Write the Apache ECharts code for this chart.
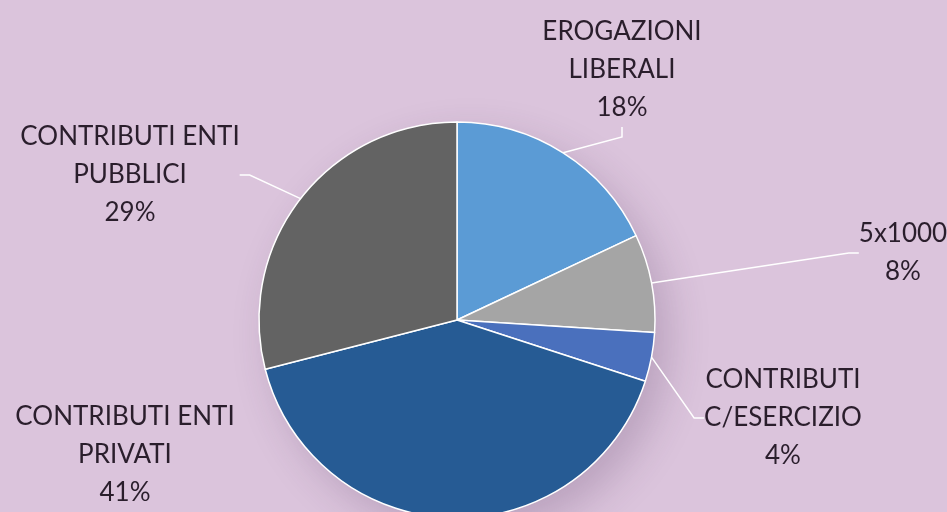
<!DOCTYPE html>
<html>
<head>
<meta charset="utf-8">
<script src="https://cdn.jsdelivr.net/npm/echarts@6/dist/echarts.min.js"></script>
<style>
html,body{margin:0;padding:0;background:#dbc4dc;}
#chart{width:947px;height:512px;}
</style>
</head>
<body>
<div id="chart"></div>
<script>
// Data
const categories = ['EROGAZIONI\nLIBERALI', '5x1000', 'CONTRIBUTI\nC/ESERCIZIO', 'CONTRIBUTI ENTI\nPRIVATI', 'CONTRIBUTI ENTI\nPUBBLICI'];
const values = [18, 8, 4, 41, 29];

// Styles
const colors = ['#5b9bd5', '#a5a5a5', '#4a70bd', '#265b94', '#636363'];
const labelPos = [[622, 70], [903, 253], [783, 418], [125, 455], [130, 175]];
const showLine = [true, true, true, false, true];

const chart = echarts.init(document.getElementById('chart'));
chart.setOption({
  backgroundColor: '#dbc4dc',
  animation: false,
  series: [{
    // soft drop shadow behind the whole pie
    type: 'pie',
    center: [457, 320],
    radius: 198,
    silent: true,
    z: 1,
    label: { show: false },
    labelLine: { show: false },
    itemStyle: {
      color: '#dbc4dc',
      shadowBlur: 40,
      shadowColor: 'rgba(70,40,80,0.22)',
      shadowOffsetX: 14,
      shadowOffsetY: 16
    },
    data: [{ name: '', value: 1 }]
  }, {
    type: 'pie',
    center: [457, 320],
    radius: 198,
    startAngle: 90,
    clockwise: true,
    z: 2,
    itemStyle: {
      borderColor: '#ffffff',
      borderWidth: 1.5
    },
    label: {
      show: true,
      formatter: '{b}\n{c}%',
      fontFamily: 'Lato',
      fontSize: 26,
      lineHeight: 38,
      color: '#2a1e2c',
      align: 'center'
    },
    labelLine: {
      show: true,
      length: 10,
      length2: 10,
      lineStyle: { color: '#ffffff', width: 1.5 }
    },
    labelLayout: function (p) {
      const pos = labelPos[p.dataIndex];
      return { x: pos[0], y: pos[1], align: 'center', verticalAlign: 'middle' };
    },
    data: categories.map((c, i) => ({
      name: c,
      value: values[i],
      itemStyle: { color: colors[i] },
      labelLine: { show: showLine[i] }
    }))
  }]
});
</script>
</body>
</html>
